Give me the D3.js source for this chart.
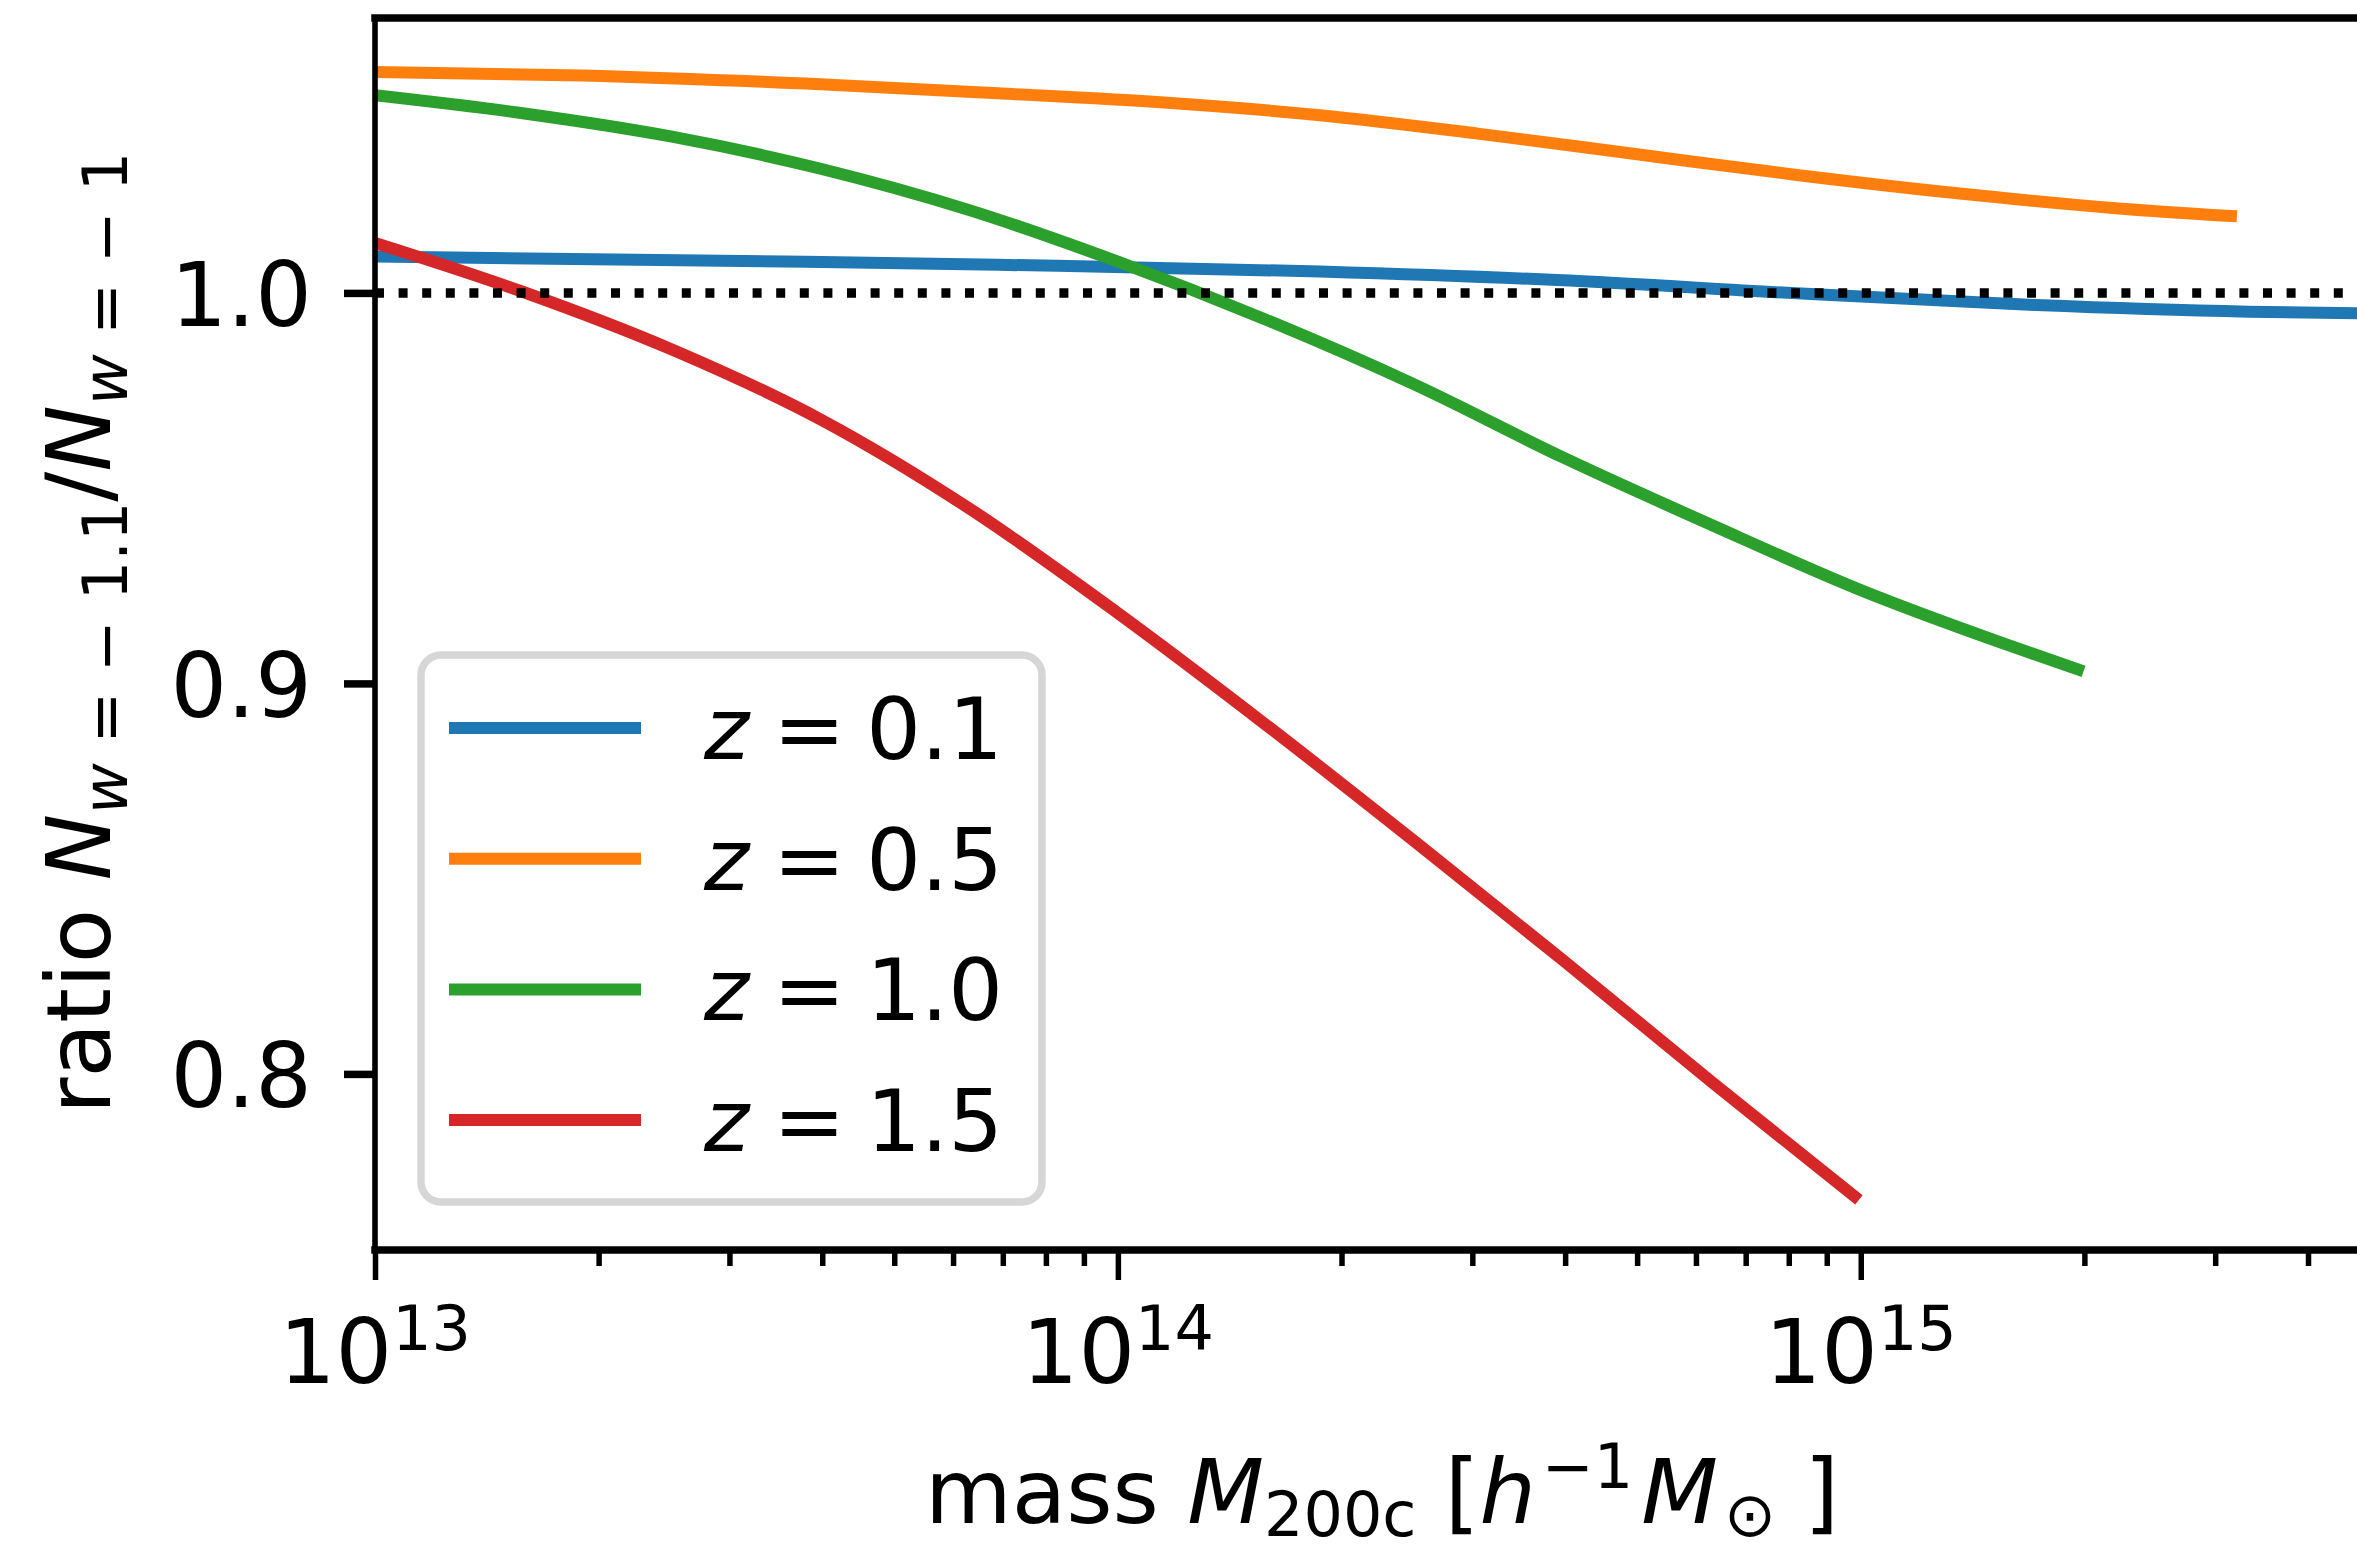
<!DOCTYPE html>
<html>
<head>
<meta charset="utf-8">
<script src="https://cdn.jsdelivr.net/npm/d3@7"></script>
<style>
    body { margin: 0; background: #fff; }
    svg { display: block; }
    text { font-family: "DejaVu Sans", sans-serif; fill: #000; }
</style>
</head>
<body>
<div id="wrapper"></div>
<script>
// values
const redshiftLabels = ["0.1", "0.5", "1.0", "1.5"];
const seriesColors = ["#1f77b4", "#ff7f0e", "#2ca02c", "#d62728"];

const massZ01  = [1.0e13, 3.8e13, 6.9e13, 1.87e14, 3.9e14, 8.2e14, 1.72e15, 3.33e15, 5.0e15];
const ratioZ01 = [1.0093, 1.0080, 1.0072, 1.0055, 1.0033, 0.9999, 0.9969, 0.9952, 0.9947];

const massZ05  = [1.0e13, 1.9e13, 3.8e13, 6.9e13, 1.14e14, 1.87e14, 3.05e14, 5.0e14, 8.2e14, 1.35e15, 2.2e15, 3.15e15];
const ratioZ05 = [1.0566, 1.0557, 1.0536, 1.0511, 1.0488, 1.0455, 1.0408, 1.0355, 1.0302, 1.0255, 1.0217, 1.0197];

const massZ10  = [1.0e13, 1.58e13, 2.51e13, 3.98e13, 6.31e13, 1.0e14, 1.58e14, 2.51e14, 3.98e14, 6.31e14, 1.0e15, 1.58e15, 1.96e15];
const ratioZ10 = [1.0506, 1.0460, 1.0400, 1.0318, 1.0212, 1.0080, 0.9932, 0.9765, 0.9578, 0.9405, 0.9239, 0.9098, 0.9036];

const massZ15  = [1.0e13, 1.58e13, 2.51e13, 3.98e13, 6.31e13, 1.0e14, 1.58e14, 2.51e14, 3.98e14, 6.31e14, 9.8e14];
const ratioZ15 = [1.0128, 1.0003, 0.9855, 0.9676, 0.9448, 0.9180, 0.8895, 0.8595, 0.8290, 0.7978, 0.7687];

const xMajorTicks = [1e13, 1e14, 1e15];
const xMajorExponents = ["13", "14", "15"];
const xMinorTicks = [2e13, 3e13, 4e13, 5e13, 6e13, 7e13, 8e13, 9e13,
                     2e14, 3e14, 4e14, 5e14, 6e14, 7e14, 8e14, 9e14,
                     2e15, 3e15, 4e15];
const yTicks = [0.8, 0.9, 1.0];

const series = [
    { mass: massZ01, ratio: ratioZ01 },
    { mass: massZ05, ratio: ratioZ05 },
    { mass: massZ10, ratio: ratioZ10 },
    { mass: massZ15, ratio: ratioZ15 }
];

function buildPlot() {
    const dimension = {
        width: 2357,
        height: 1546,
        margin: { top: 18, left: 375, bottom: 296, right: -23 }
    };
    dimension.boundedWidth = dimension.width - dimension.margin.left - dimension.margin.right;
    dimension.boundedHeight = dimension.height - dimension.margin.top - dimension.margin.bottom;

    const fontSize = 89, smallSize = 62, legendSize = 86;

    const svg = d3.select("#wrapper").append("svg")
        .attr("width", dimension.width)
        .attr("height", dimension.height);

    const bounded = svg.append("g")
        .attr("transform", `translate(${dimension.margin.left},${dimension.margin.top})`);

    const xScaler = d3.scaleLog()
        .domain([1e13, 5e15])
        .range([0, dimension.boundedWidth]);

    const yScaler = d3.scaleLinear()
        .domain([0.7549, 1.0704])
        .range([dimension.boundedHeight, 0]);

    bounded.append("clipPath").attr("id", "plotClip")
        .append("rect")
        .attr("width", dimension.boundedWidth)
        .attr("height", dimension.boundedHeight);

    // curves
    const lineGenerator = d3.line()
        .x(d => xScaler(d[0]))
        .y(d => yScaler(d[1]))
        .curve(d3.curveMonotoneX);

    const lines = bounded.append("g").attr("clip-path", "url(#plotClip)");
    series.forEach((s, i) => {
        lines.append("path")
            .attr("d", lineGenerator(d3.zip(s.mass, s.ratio)))
            .attr("fill", "none")
            .attr("stroke", seriesColors[i])
            .attr("stroke-width", 12)
            .attr("stroke-linecap", "square")
            .attr("stroke-linejoin", "round");
    });

    // reference line at ratio 1
    lines.append("line")
        .attr("x1", 0).attr("x2", dimension.boundedWidth)
        .attr("y1", yScaler(1)).attr("y2", yScaler(1))
        .attr("stroke", "#000")
        .attr("stroke-width", 9.5)
        .attr("stroke-dasharray", "9,14.6");

    // x axis
    const xAxis = bounded.append("g")
        .attr("transform", `translate(0,${dimension.boundedHeight})`)
        .call(d3.axisBottom(xScaler).tickValues(xMajorTicks).tickSize(30).tickSizeOuter(0).tickFormat(""));
    const xMinor = bounded.append("g")
        .attr("transform", `translate(0,${dimension.boundedHeight})`)
        .call(d3.axisBottom(xScaler).tickValues(xMinorTicks).tickSize(16).tickSizeOuter(0).tickFormat(""));
    [xAxis, xMinor].forEach(g => {
        g.select(".domain").remove();
        g.selectAll("line").attr("stroke", "#000").attr("stroke-width", 5.5);
    });

    xMajorTicks.forEach((t, i) => {
        const label = bounded.append("text")
            .attr("x", xScaler(t))
            .attr("y", dimension.boundedHeight + 133)
            .attr("text-anchor", "middle")
            .attr("font-size", fontSize);
        label.append("tspan").text("10");
        label.append("tspan").attr("font-size", smallSize).attr("dy", -33).text(xMajorExponents[i]);
    });

    // y axis
    const yAxis = bounded.append("g")
        .call(d3.axisLeft(yScaler).tickValues(yTicks).tickSize(31).tickPadding(32).tickSizeOuter(0)
            .tickFormat(d3.format(".1f")));
    yAxis.select(".domain").remove();
    yAxis.selectAll("line").attr("stroke", "#000").attr("stroke-width", 7.5);
    yAxis.selectAll("text")
        .attr("font-size", fontSize)
        .attr("font-family", "DejaVu Sans")
        .attr("dy", "0.37em")
        .attr("fill", "#000");

    // spines
    const spines = bounded.append("g").attr("stroke", "#000").attr("stroke-linecap", "square");
    spines.append("line").attr("x1", 0).attr("x2", dimension.boundedWidth).attr("y1", 0).attr("y2", 0).attr("stroke-width", 7.5);
    spines.append("line").attr("x1", 0).attr("x2", dimension.boundedWidth)
        .attr("y1", dimension.boundedHeight).attr("y2", dimension.boundedHeight).attr("stroke-width", 7.5);
    spines.append("line").attr("x1", 0).attr("x2", 0).attr("y1", 0).attr("y2", dimension.boundedHeight).attr("stroke-width", 5.6);
    spines.append("line").attr("x1", dimension.boundedWidth).attr("x2", dimension.boundedWidth)
        .attr("y1", 0).attr("y2", dimension.boundedHeight).attr("stroke-width", 5.6);

    // mixed math text helper
    function writeParts(textSel, parts) {
        let shift = 0;
        parts.forEach(p => {
            const ts = textSel.append("tspan").text(p.t);
            const s = p.shift || 0;
            if (s !== shift) { ts.attr("dy", s - shift); shift = s; }
            if (p.dx) ts.attr("dx", p.dx);
            if (p.italic) ts.attr("font-style", "italic");
            if (p.small) ts.attr("font-size", smallSize);
        });
    }

    // axis labels
    const xLabel = svg.append("text")
        .attr("x", 1382).attr("y", 1523)
        .attr("text-anchor", "middle")
        .attr("font-size", fontSize)
        .attr("xml:space", "preserve");
    writeParts(xLabel, [
        { t: "mass " },
        { t: "M", italic: true },
        { t: "200c", small: true, shift: 13 },
        { t: " [" },
        { t: "h", italic: true },
        { t: "\u22121", small: true, shift: -35, dx: 6 },
        { t: "M", italic: true, dx: 8 },
        { t: "\u2299", small: true, shift: 13, dx: 6 },
        { t: " ]" }
    ]);

    const yLabel = svg.append("text")
        .attr("transform", "translate(110,633) rotate(-90)")
        .attr("text-anchor", "middle")
        .attr("font-size", fontSize)
        .attr("xml:space", "preserve");
    writeParts(yLabel, [
        { t: "ratio " },
        { t: "N", italic: true },
        { t: "w", italic: true, small: true, shift: 17 },
        { t: " = \u2212 1.1", small: true, shift: 17 },
        { t: "/" },
        { t: "N", italic: true },
        { t: "w", italic: true, small: true, shift: 17 },
        { t: " = \u2212 1", small: true, shift: 17 }
    ]);

    // legend
    const legend = bounded.append("g").attr("transform", "translate(46,637)");
    legend.append("rect")
        .attr("width", 621).attr("height", 547)
        .attr("rx", 20).attr("ry", 20)
        .attr("fill", "#fff")
        .attr("stroke", "#d6d6d6")
        .attr("stroke-width", 7.5);
    redshiftLabels.forEach((lab, i) => {
        const rowY = 73 + i * 130.7;
        legend.append("line")
            .attr("x1", 28).attr("x2", 220)
            .attr("y1", rowY).attr("y2", rowY)
            .attr("stroke", seriesColors[i])
            .attr("stroke-width", 12);
        const t = legend.append("text")
            .attr("x", 283).attr("y", rowY + 31)
            .attr("font-size", legendSize);
        writeParts(t, [
            { t: "z", italic: true },
            { t: "=", dx: 24 },
            { t: lab, dx: 21 }
        ]);
    });
}

buildPlot();
</script>
</body>
</html>
